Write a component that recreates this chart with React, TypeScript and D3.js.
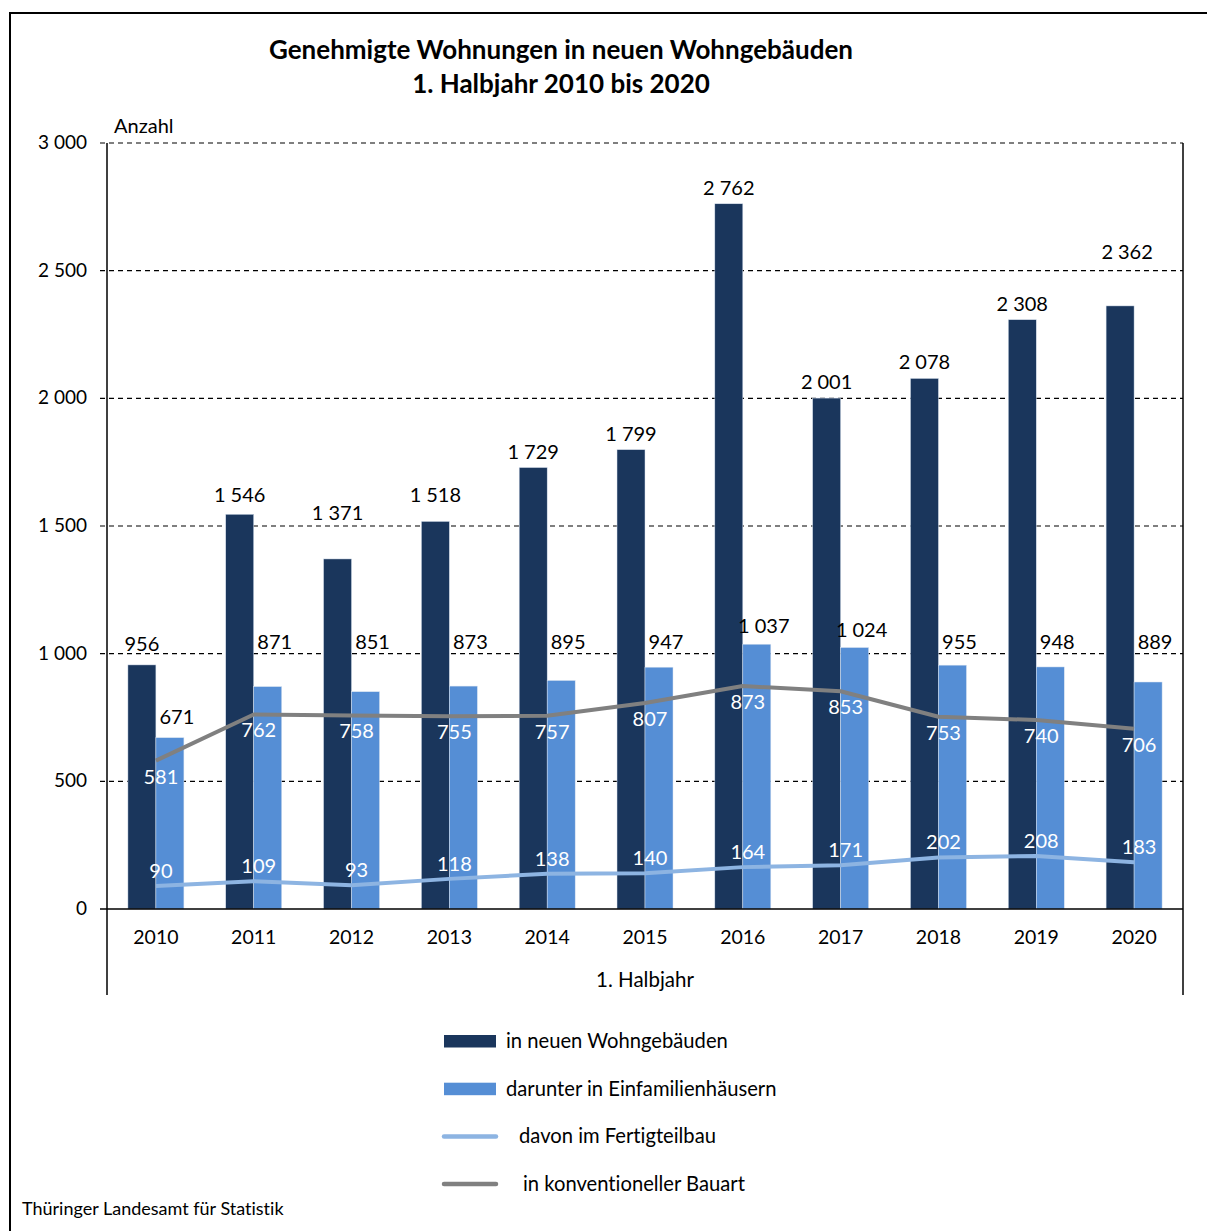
import React from "react";
import * as d3 from "d3";

const years = ["2010","2011","2012","2013","2014","2015","2016","2017","2018","2019","2020"];
const totalNew = [956, 1546, 1371, 1518, 1729, 1799, 2762, 2001, 2078, 2308, 2362];
const singleFamily = [671, 871, 851, 873, 895, 947, 1037, 1024, 955, 948, 889];
const prefab = [90, 109, 93, 118, 138, 140, 164, 171, 202, 208, 183];
const conventional = [581, 762, 758, 755, 757, 807, 873, 853, 753, 740, 706];
const yTicks = [0, 500, 1000, 1500, 2000, 2500, 3000];

const legendItems = [
  { label: "in neuen Wohngebäuden", kind: "rect", color: "#1a365c" },
  { label: "darunter in Einfamilienhäusern", kind: "rect", color: "#558ed5" },
  { label: "davon im Fertigteilbau", kind: "line", color: "#8db4e2" },
  { label: "in konventioneller Bauart", kind: "line", color: "#808080" },
];

const FONT = "'Source Sans Pro', Lato, 'Noto Sans', sans-serif";
const fmt = (v: number) => {
  const s = String(v);
  return s.length > 3 ? s.slice(0, s.length - 3) + "\u2005" + s.slice(s.length - 3) : s;
};
const fmtTick = (v: number) => {
  const s = String(v);
  return s.length > 3 ? s.slice(0, s.length - 3) + " " + s.slice(s.length - 3) : s;
};

// manual label nudges (as in the original chart)
const darkLabelLift: Record<string, number> = { "2010": 5, "2011": 3, "2012": 30, "2013": 10, "2020": 38 };
const darkLabelDx: Record<string, number> = { "2020": 7 };
const lightLabelFree: Record<string, boolean> = { "2010": true };

export default function App() {
  const left = 107, right = 1183, top = 143, bottom = 909;
  const x = d3.scaleBand<string>().domain(years).range([left, right]).padding(0);
  const y = d3.scaleLinear().domain([0, 3000]).range([bottom, top]);
  const bw = 28;
  const cx = (yr: string) => (x(yr) as number) + x.bandwidth() / 2;

  const line = d3.line<number>().x((_, i) => cx(years[i])).y((d) => y(d));

  return (
    <svg width={1207} height={1231} style={{ position: "absolute", left: 0, top: 0, background: "#fff", fontVariantLigatures: "none" }} fontFamily={FONT}>
      <rect x={0} y={0} width={1207} height={1231} fill="#fff" />
      <rect x={10} y={13} width={1300} height={1300} fill="none" stroke="#000" strokeWidth={2} />

      <text x={561} y={59} textAnchor="middle" fontWeight="bold" fontSize={26}>Genehmigte Wohnungen in neuen Wohngebäuden</text>
      <text x={561} y={93} textAnchor="middle" fontWeight="bold" fontSize={26}>1. Halbjahr 2010 bis 2020</text>

      <text x={114} y={133} fontSize={20}>Anzahl</text>

      {yTicks.map((t) => (
        <g key={t}>
          {t > 0 && (
            <line x1={100} x2={right} y1={y(t)} y2={y(t)} stroke="#000" strokeWidth={1.2} strokeDasharray="5,4" />
          )}
          <text x={87} y={y(t) + 6} textAnchor="end" fontSize={19}>{fmtTick(t)}</text>
        </g>
      ))}

      {years.map((yr, i) => (
        <g key={yr}>
          <rect x={cx(yr) - bw} y={y(totalNew[i])} width={bw} height={bottom - y(totalNew[i])} fill="#1a365c" stroke="#d9e3f0" strokeWidth={0.5} />
          <rect x={cx(yr)} y={y(singleFamily[i])} width={bw} height={bottom - y(singleFamily[i])} fill="#558ed5" stroke="#d9e3f0" strokeWidth={0.5} />
        </g>
      ))}

      <line x1={left} x2={left} y1={top} y2={995} stroke="#000" strokeWidth={1.5} />
      <line x1={right} x2={right} y1={top} y2={995} stroke="#000" strokeWidth={1.5} />
      <line x1={100} x2={right} y1={bottom} y2={bottom} stroke="#000" strokeWidth={1.5} />

      <path d={line(conventional) || ""} fill="none" stroke="#808080" strokeWidth={4} strokeLinejoin="round" />
      <path d={line(prefab) || ""} fill="none" stroke="#8db4e2" strokeWidth={4} strokeLinejoin="round" />

      {years.map((yr, i) => {
        const c = cx(yr);
        const dTop = y(totalNew[i]);
        const lTop = y(singleFamily[i]);
        const lY = lightLabelFree[yr] ? lTop - 20 : Math.min(lTop - 17, y(1000) - 11);
        return (
          <g key={"l" + yr} fontSize={20}>
            <text x={c - 14 + (darkLabelDx[yr] || 0)} y={dTop - 9 - (darkLabelLift[yr] || 0)} textAnchor="middle">{fmt(totalNew[i])}</text>
            <text x={c + 21} y={lY + 6} textAnchor="middle">{fmt(singleFamily[i])}</text>
            <text x={c + 5} y={y(conventional[i]) + 23} textAnchor="middle" fill="#fff">{fmt(conventional[i])}</text>
            <text x={c + 5} y={y(prefab[i]) - 8} textAnchor="middle" fill="#fff">{fmt(prefab[i])}</text>
            <text x={c} y={944} textAnchor="middle" fontSize={19.5}>{yr}</text>
          </g>
        );
      })}

      <text x={645} y={987} textAnchor="middle" fontSize={20.5}>1. Halbjahr</text>

      {legendItems.map((it, i) => {
        const ly = 1041 + i * 47.7;
        return (
          <g key={it.label}>
            {it.kind === "rect" ? (
              <rect x={444} y={ly - 6} width={52} height={12.5} fill={it.color} />
            ) : (
              <line x1={444} x2={496} y1={ly} y2={ly} stroke={it.color} strokeWidth={4.5} strokeLinecap="round" />
            )}
            <text x={i === 0 || i === 1 ? 506 : i === 2 ? 519 : 523} y={ly + 7} fontSize={20.2}>{it.label}</text>
          </g>
        );
      })}

      <text x={22} y={1215} fontSize={18}>Thüringer Landesamt für Statistik</text>
    </svg>
  );
}
